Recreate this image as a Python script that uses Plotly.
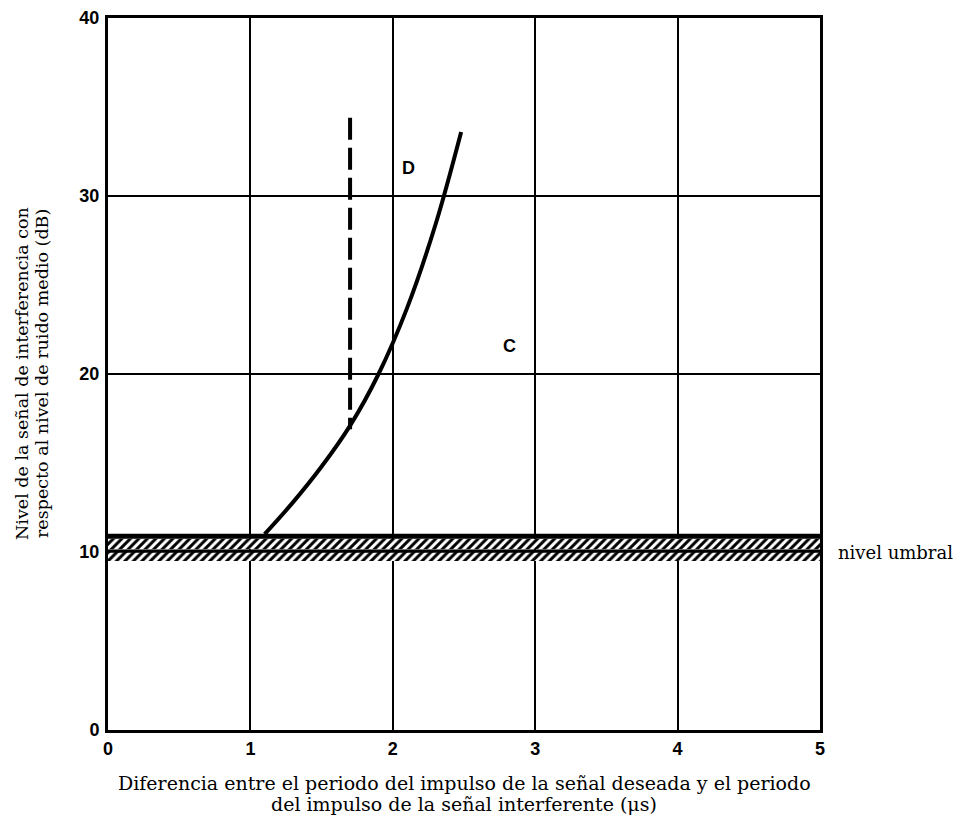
import plotly.graph_objects as go

# Data
curve_x = [1.10, 1.30, 1.50, 1.70, 1.90, 2.10, 2.30, 2.48]
curve_y = [11.0, 12.8, 14.8, 17.1, 20.0, 23.7, 28.4, 33.6]

dashed_x = [1.7, 1.7]
dashed_y = [34.4, 16.9]

threshold_top = 10.88      # thick black line
threshold_mid = 10.05      # thin black line
hatch_upper = (10.15, 10.75)
hatch_lower = (9.5, 9.97)

x_range = [0, 5]
y_range = [0, 40]
x_ticks = [0, 1, 2, 3, 4, 5]
y_ticks = [0, 10, 20, 30, 40]

labels = [("D", 2.11, 31.6), ("C", 2.82, 21.6)]

x_title = ["Diferencia entre el periodo del impulso de la señal deseada y el periodo",
           "del impulso de la señal interferente (μs)"]
y_title = ["Nivel de la señal de interferencia con",
           "respecto al nivel de ruido medio (dB)"]

fig = go.Figure()

# hatched bands
for lo, hi in (hatch_upper, hatch_lower):
    fig.add_trace(go.Scatter(
        x=[x_range[0], x_range[1], x_range[1], x_range[0], x_range[0]],
        y=[lo, lo, hi, hi, lo],
        mode="none", fill="toself", fillcolor="rgba(255,255,255,0)",
        fillpattern=dict(shape="/", fgcolor="black", bgcolor="white",
                         size=6, solidity=0.5, fillmode="replace"),
        hoverinfo="skip", showlegend=False))

fig.add_trace(go.Scatter(x=x_range, y=[threshold_top, threshold_top], mode="lines",
                         line=dict(color="black", width=5), showlegend=False))
fig.add_trace(go.Scatter(x=x_range, y=[threshold_mid, threshold_mid], mode="lines",
                         line=dict(color="black", width=3), showlegend=False))

fig.add_trace(go.Scatter(x=curve_x, y=curve_y, mode="lines",
                         line=dict(color="black", width=4, shape="spline", smoothing=1.0),
                         showlegend=False))
fig.add_trace(go.Scatter(x=dashed_x, y=dashed_y, mode="lines",
                         line=dict(color="black", width=4, dash="22px,8px"),
                         showlegend=False))

for txt, lx, ly in labels:
    fig.add_annotation(x=lx, y=ly, text="<b>%s</b>" % txt, showarrow=False,
                       font=dict(family="Liberation Sans", size=18, color="black"))

serif = "DejaVu Serif"
fig.add_annotation(x=1.0225, xref="paper", y=10, yref="y", xanchor="left",
                   text="nivel umbral", showarrow=False,
                   font=dict(family=serif, size=18, color="black"))
for i, line in enumerate(x_title):
    fig.add_annotation(x=0.5, xref="paper", y=-(53 + 21 * i) / 712, yref="paper",
                       yanchor="middle", text=line, showarrow=False,
                       font=dict(family=serif, size=19, color="black"))
for i, line in enumerate(y_title):
    fig.add_annotation(x=-(86 - 20 * i) / 712, xref="paper", y=0.5, yref="paper",
                       xanchor="center", text=line, showarrow=False, textangle=-90,
                       font=dict(family=serif, size=17.5, color="black"))

tickfont = dict(family="Liberation Sans", size=18, color="black")
fig.update_xaxes(range=x_range, tickvals=x_ticks, ticktext=["<b>%d</b>" % v for v in x_ticks],
                 showgrid=True, gridcolor="black", gridwidth=1.5, zeroline=False,
                 showline=True, linecolor="black", linewidth=3, mirror=True,
                 ticks="", tickfont=tickfont, automargin=False)
fig.update_yaxes(range=y_range, tickvals=y_ticks, ticktext=["<b>%d</b>" % v for v in y_ticks],
                 showgrid=True, gridcolor="black", gridwidth=1.5, zeroline=False,
                 showline=True, linecolor="black", linewidth=3, mirror=True,
                 ticks="", tickfont=tickfont, ticklabelstandoff=2, automargin=False)

fig.update_layout(width=956, height=819, margin=dict(l=100, r=144, t=10, b=97),
                  plot_bgcolor="white", paper_bgcolor="white", showlegend=False)

fig.write_html("out.html")
